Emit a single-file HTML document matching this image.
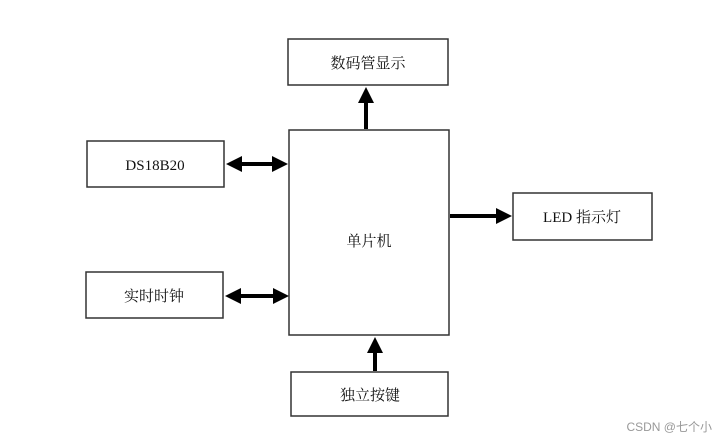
<!DOCTYPE html>
<html><head><meta charset="utf-8"><style>
html,body{margin:0;padding:0;background:#fff;}
svg{display:block;}
text{font-family:"Liberation Serif","Noto Serif CJK SC","Noto Sans CJK SC",serif;font-size:15px;fill:#111;}
</style></head><body>
<svg width="725" height="443" viewBox="0 0 725 443" xmlns="http://www.w3.org/2000/svg">
<defs>
<marker id="a" markerWidth="4" markerHeight="4" refX="2" refY="2" orient="auto-start-reverse" markerUnits="strokeWidth"><path d="M0,0 L4,2 L0,4 z" fill="#000"/></marker>
</defs>
<g fill="none" stroke="#333" stroke-width="1.5">
<rect x="288" y="39" width="160" height="46"/>
<rect x="289" y="130" width="160" height="205"/>
<rect x="87" y="141" width="137" height="46"/>
<rect x="513" y="193" width="139" height="47"/>
<rect x="86" y="272" width="137" height="46"/>
<rect x="291" y="372" width="157" height="44"/>
</g>
<g stroke="#000" stroke-width="4" fill="none">
<line x1="366" y1="129" x2="366" y2="95" marker-end="url(#a)"/>
<line x1="234" y1="164" x2="280" y2="164" marker-start="url(#a)" marker-end="url(#a)"/>
<line x1="233" y1="296" x2="281" y2="296" marker-start="url(#a)" marker-end="url(#a)"/>
<line x1="450" y1="216" x2="504" y2="216" marker-end="url(#a)"/>
<line x1="375" y1="371" x2="375" y2="345" marker-end="url(#a)"/>
</g>
<text x="368" y="68" text-anchor="middle">数码管显示</text>
<text x="155" y="170" text-anchor="middle">DS18B20</text>
<text x="369" y="246" text-anchor="middle">单片机</text>
<text x="582" y="222" text-anchor="middle">LED 指示灯</text>
<text x="154" y="301" text-anchor="middle">实时时钟</text>
<text x="370" y="400" text-anchor="middle">独立按键</text>
<text x="712" y="431" text-anchor="end" style="font-family:'Liberation Sans','Noto Sans CJK SC',sans-serif;font-size:12px;fill:#999">CSDN @七个小</text>
</svg>
</body></html>
